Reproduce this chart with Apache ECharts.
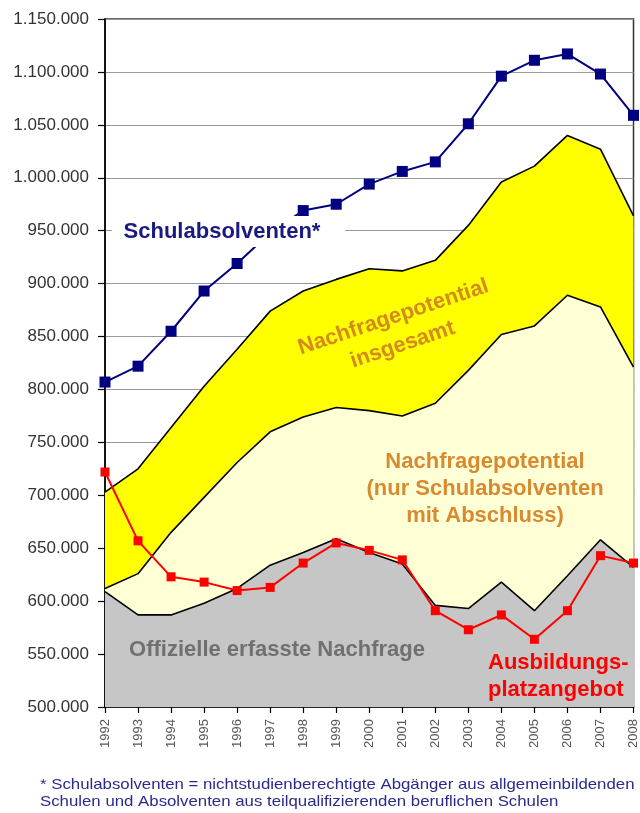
<!DOCTYPE html>
<html>
<head>
<meta charset="utf-8">
<script src="https://cdn.jsdelivr.net/npm/echarts@6/dist/echarts.min.js"></script>
<style>
  html, body { margin: 0; padding: 0; background: #ffffff; }
  #chart { width: 640px; height: 813px; }
</style>
</head>
<body>
<div id="chart"></div>
<script>
// ---- data ----
var years = ['1992','1993','1994','1995','1996','1997','1998','1999','2000','2001','2002','2003','2004','2005','2006','2007','2008'];

// Schulabsolventen* (blue line with squares)
var schulabsolventen = [807000, 822000, 855000, 893000, 919000, 948000, 969000, 975000, 994000, 1006000, 1015000, 1051000, 1096000, 1111000, 1117000, 1098000, 1059000];

// Nachfragepotential insgesamt (yellow area top)
var potentialGesamt = [703000, 725000, 764000, 803000, 838000, 874000, 893000, 904000, 914000, 912000, 922000, 955000, 996000, 1011000, 1040000, 1027000, 964000];

// Nachfragepotential (nur Schulabsolventen mit Abschluss) (light yellow area top)
var potentialAbschluss = [612000, 626000, 665000, 698000, 731000, 760000, 774000, 783000, 780000, 775000, 787000, 818000, 852000, 860000, 889000, 878000, 821000];

// Offizielle erfasste Nachfrage (grey area top)
var offizielleNachfrage = [609000, 587000, 587000, 598000, 612000, 634000, 646000, 659000, 646000, 635000, 596000, 593000, 618000, 591000, 624000, 658000, 632000];

// Ausbildungsplatzangebot (red line with squares)
var ausbildungsplatzangebot = [722000, 657000, 623000, 618000, 610000, 613000, 636000, 655000, 648000, 639000, 591000, 573000, 587000, 564000, 591000, 643000, 636000];

// y axis range / ticks
var yMin = 500000, yMax = 1150000, yStep = 50000;

// text
var labelSchul = 'Schulabsolventen*';
var labelGesamt = 'Nachfragepotential\ninsgesamt';
var labelAbschluss = 'Nachfragepotential\n(nur Schulabsolventen\nmit Abschluss)';
var labelOffiziell = 'Offizielle erfasste Nachfrage';
var labelAngebot = 'Ausbildungs-\nplatzangebot';
var footnoteLines = [
  '* Schulabsolventen = nichtstudienberechtigte Abgänger aus allgemeinbildenden',
  'Schulen und Absolventen aus teilqualifizierenden beruflichen Schulen'
];

// ---- chart ----
function fmtDE(v) {
  var s = String(Math.round(v));
  return s.replace(/\B(?=(\d{3})+(?!\d))/g, '.');
}

var FONT = 'Liberation Sans, Arial, Helvetica, sans-serif';
var chart = echarts.init(document.getElementById('chart'));

function areaSeries(name, data, fill) {
  return {
    name: name,
    type: 'line',
    data: data,
    symbol: 'none',
    smooth: false,
    lineStyle: { color: '#000000', width: 1.6 },
    areaStyle: { color: fill, opacity: 1, origin: 'start' },
    silent: true
  };
}

var option = {
  backgroundColor: '#ffffff',
  animation: false,
  grid: {
    left: 105, right: 6, top: 19, bottom: 106,
    show: true, borderColor: '#333333', borderWidth: 1.5, backgroundColor: 'transparent'
  },
  xAxis: {
    type: 'category',
    data: years,
    boundaryGap: false,
    axisLine: { lineStyle: { color: '#000000', width: 1.6 } },
    axisTick: { show: true, length: 6, lineStyle: { color: '#000000', width: 1.2 } },
    axisLabel: { rotate: 90, fontSize: 13, color: '#555555', fontFamily: FONT, margin: 12, interval: 0 },
    splitLine: { show: false }
  },
  yAxis: {
    type: 'value',
    min: yMin, max: yMax, interval: yStep,
    axisLine: { show: true, lineStyle: { color: '#000000', width: 1.6 } },
    axisTick: { show: true, length: 7, lineStyle: { color: '#000000', width: 1.2 } },
    axisLabel: { fontSize: 17, color: '#333333', fontFamily: FONT, margin: 16, formatter: fmtDE },
    splitLine: { show: true, lineStyle: { color: '#9a9a9a', width: 1.2 } }
  },
  series: [
    areaSeries('Nachfragepotential insgesamt', potentialGesamt, '#FFFF00'),
    areaSeries('Nachfragepotential (nur Schulabsolventen mit Abschluss)', potentialAbschluss, '#FFFFD6'),
    areaSeries('Offizielle erfasste Nachfrage', offizielleNachfrage, '#C6C6C6'),
    {
      name: 'Ausbildungsplatzangebot',
      type: 'line',
      data: ausbildungsplatzangebot,
      symbol: 'rect', symbolSize: 9,
      itemStyle: { color: '#FF0000' },
      lineStyle: { color: '#FF0000', width: 2 },
      silent: true
    },
    {
      name: 'Schulabsolventen',
      type: 'line',
      data: schulabsolventen,
      symbol: 'rect', symbolSize: 11,
      itemStyle: { color: '#000080' },
      lineStyle: { color: '#000080', width: 2 },
      silent: true
    }
  ],
  graphic: [
    {
      type: 'rect', z: 100,
      shape: { x: 112, y: 216, width: 233, height: 31 },
      style: { fill: '#ffffff' }
    },
    {
      type: 'text', z: 101, x: 222, y: 232,
      style: { text: labelSchul, fill: '#1a1a80', font: 'bold 22px ' + FONT, align: 'center', verticalAlign: 'middle' }
    },
    {
      type: 'text', z: 101, x: 398, y: 331, rotation: 18.5 * Math.PI / 180,
      style: { text: labelGesamt, fill: '#D48A1C', font: 'bold 22px ' + FONT, align: 'center', verticalAlign: 'middle', lineHeight: 29 }
    },
    {
      type: 'text', z: 101, x: 485, y: 489,
      style: { text: labelAbschluss, fill: '#D88A32', font: 'bold 22px ' + FONT, align: 'center', verticalAlign: 'middle', lineHeight: 27 }
    },
    {
      type: 'text', z: 101, x: 277, y: 650,
      style: { text: labelOffiziell, fill: '#707070', font: 'bold 22px ' + FONT, align: 'center', verticalAlign: 'middle' }
    },
    {
      type: 'text', z: 101, x: 488, y: 676,
      style: { text: labelAngebot, fill: '#FF0000', font: 'bold 22px ' + FONT, align: 'left', verticalAlign: 'middle', lineHeight: 27 }
    },
    {
      type: 'text', z: 101, x: 40, y: 793, scaleX: 1.12,
      style: { text: footnoteLines.join('\n'), fill: '#2A2A8C', font: '15px ' + FONT, align: 'left', verticalAlign: 'middle', lineHeight: 17 }
    }
  ]
};

chart.setOption(option);
</script>
</body>
</html>
